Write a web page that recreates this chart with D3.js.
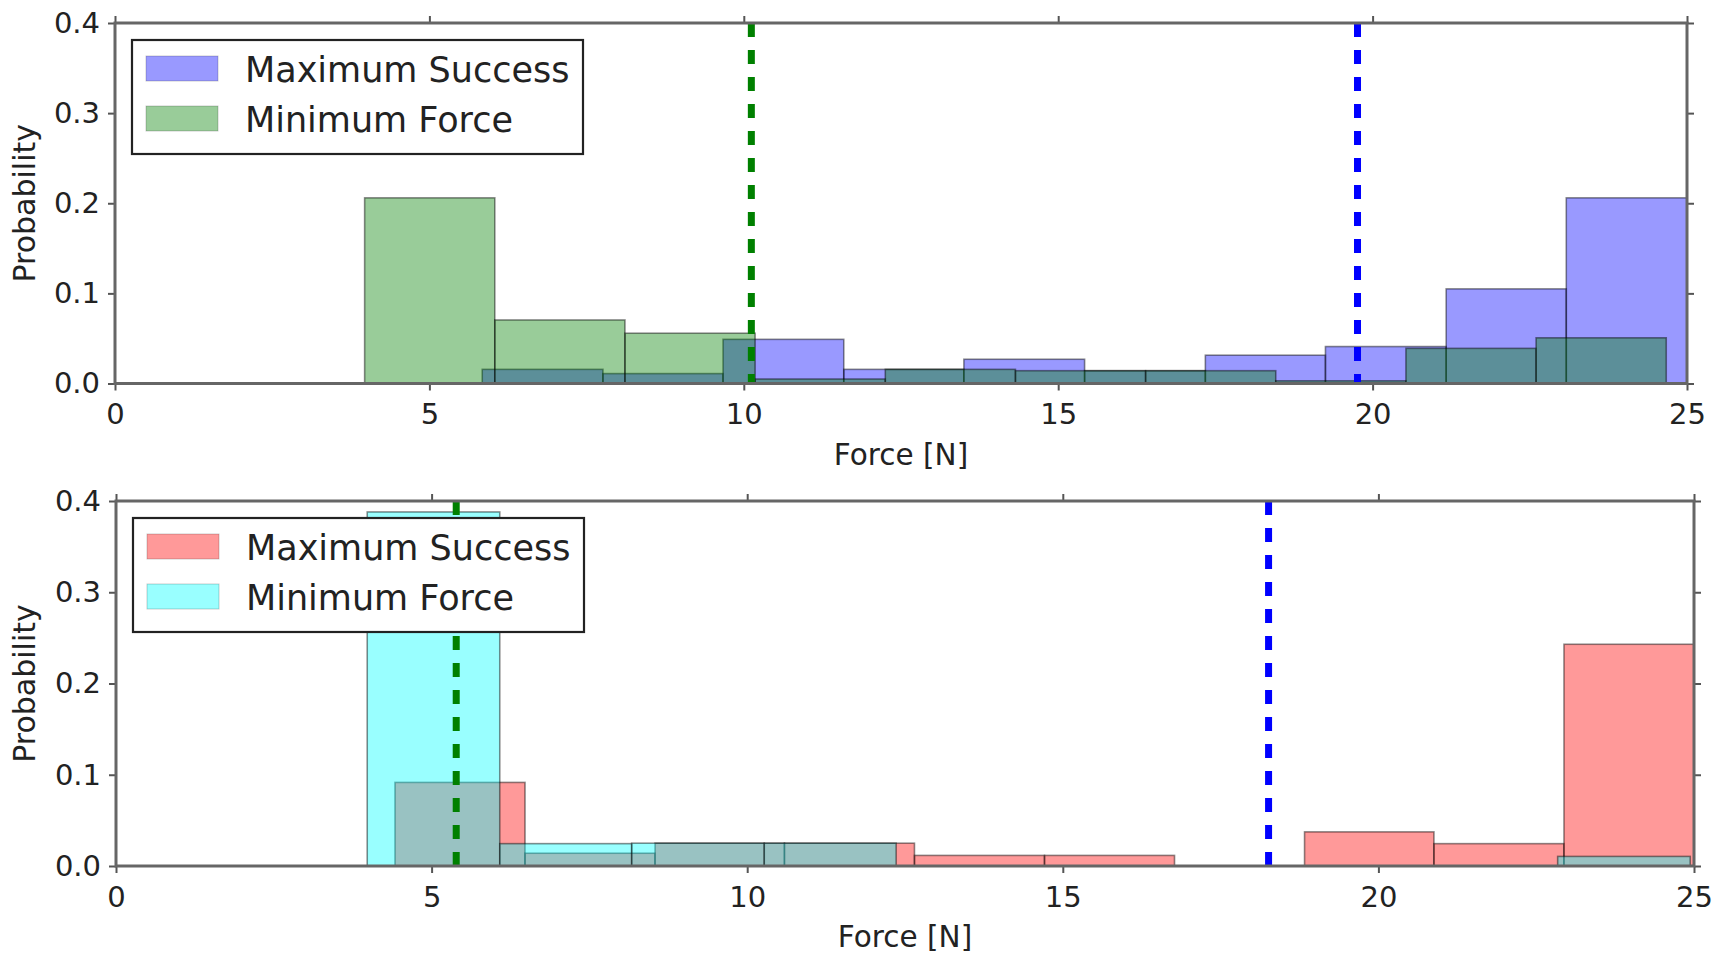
<!DOCTYPE html>
<html>
<head>
<meta charset="utf-8">
<script src="https://cdn.jsdelivr.net/npm/d3@7"></script>
<style>
  html, body { margin: 0; padding: 0; background: #fff; }
  svg { display: block; }
  text { font-family: "DejaVu Sans", sans-serif; fill: #222; }
</style>
</head>
<body>
<svg id="chart" width="1723" height="955"></svg>
<script>
// ---------------- data ----------------
const xTickValues = [0, 5, 10, 15, 20, 25];
const yTickValues = [0.0, 0.1, 0.2, 0.3, 0.4];
const legendLabels = ["Maximum Success", "Minimum Force"];
const xAxisTitle = "Force [N]";
const yAxisTitle = "Probability";

// top panel: Maximum Success (blue)
const topMaxSuccessEdges = [5.84, 7.76, 9.67, 11.59, 13.50, 15.42, 17.34, 19.25, 21.17, 23.08, 25.00];
const topMaxSuccessProb  = [0.0157, 0.011, 0.049, 0.0157, 0.0269, 0.0142, 0.0314, 0.041, 0.105, 0.206];
// top panel: Minimum Force (green)
const topMinForceEdges = [3.97, 6.04, 8.11, 10.18, 12.25, 14.32, 16.39, 18.46, 20.53, 22.60, 24.67];
const topMinForceProb  = [0.206, 0.0705, 0.0558, 0.005, 0.0157, 0.0142, 0.0142, 0.003, 0.039, 0.0507];
// top panel mean lines
const topMeanMinForce = 10.12;
const topMeanMaxSuccess = 19.76;

// bottom panel: Maximum Success (red)
const botMaxSuccessEdges = [4.42, 6.48, 8.54, 10.59, 12.65, 14.71, 16.77, 18.83, 20.88, 22.94, 25.00];
const botMaxSuccessProb  = [0.0916, 0.014, 0.025, 0.025, 0.0116, 0.0116, 0, 0.0374, 0.0245, 0.243];
// bottom panel: Minimum Force (cyan)
const botMinForceEdges = [3.98, 6.08, 8.17, 10.27, 12.36, 14.46, 16.56, 18.65, 20.75, 22.84, 24.94];
const botMinForceProb  = [0.388, 0.0245, 0.025, 0.025, 0, 0, 0, 0, 0, 0.0105];
// bottom panel mean lines
const botMeanMinForce = 5.39;
const botMeanMaxSuccess = 18.26;

// ---------------- drawing ----------------
const svg = d3.select("#chart");

function toBins(edges, probs) {
  return probs.map((p, i) => ({ x0: edges[i], x1: edges[i + 1], p }));
}

function drawPanel(cfg) {
  const g = svg.append("g");
  const x = d3.scaleLinear().domain([0, 25]).range([cfg.left, cfg.right]);
  const y = d3.scaleLinear().domain([0, 0.4]).range([cfg.bottom, cfg.top]);

  cfg.series.forEach(s => {
    g.append("g").selectAll("rect")
      .data(toBins(s.edges, s.probs))
      .join("rect")
      .attr("x", d => x(d.x0))
      .attr("width", d => x(d.x1) - x(d.x0))
      .attr("y", d => y(d.p))
      .attr("height", d => y(0) - y(d.p))
      .attr("fill", s.color)
      .attr("fill-opacity", 0.4)
      .attr("stroke", "#000")
      .attr("stroke-opacity", 0.45)
      .attr("stroke-width", 1.6);
  });

  cfg.lines.forEach(l => {
    g.append("line")
      .attr("x1", x(l.value)).attr("x2", x(l.value))
      .attr("y1", y(0.4)).attr("y2", y(0))
      .attr("stroke", l.color)
      .attr("stroke-width", 7)
      .attr("stroke-dasharray", "14 13");
  });

  // axes
  const tickStyle = sel => {
    sel.select(".domain").remove();
    sel.selectAll(".tick line").attr("stroke", "#555").attr("stroke-width", 2);
    sel.selectAll(".tick text").attr("font-size", 29).attr("fill", "#222");
  };
  g.append("g").attr("transform", `translate(0,${cfg.bottom})`)
    .call(d3.axisBottom(x).tickValues(xTickValues).tickSize(7).tickPadding(13).tickFormat(d3.format("d")))
    .call(tickStyle);
  g.append("g").attr("transform", `translate(0,${cfg.top})`)
    .call(d3.axisTop(x).tickValues(xTickValues).tickSize(7).tickFormat(""))
    .call(tickStyle);
  g.append("g").attr("transform", `translate(${cfg.left},0)`)
    .call(d3.axisLeft(y).tickValues(yTickValues).tickSize(7).tickPadding(8).tickFormat(d3.format(".1f")))
    .call(tickStyle);
  g.append("g").attr("transform", `translate(${cfg.right},0)`)
    .call(d3.axisRight(y).tickValues(yTickValues).tickSize(7).tickFormat(""))
    .call(tickStyle);

  // spines
  g.append("rect")
    .attr("x", cfg.left).attr("y", cfg.top)
    .attr("width", cfg.right - cfg.left).attr("height", cfg.bottom - cfg.top)
    .attr("fill", "none").attr("stroke", "#666").attr("stroke-width", 3);

  // axis titles
  g.append("text")
    .attr("x", (cfg.left + cfg.right) / 2).attr("y", cfg.bottom + 81)
    .attr("text-anchor", "middle").attr("font-size", 29.5)
    .text(xAxisTitle);
  g.append("text")
    .attr("transform", `translate(35,${(cfg.top + cfg.bottom) / 2}) rotate(-90)`)
    .attr("text-anchor", "middle").attr("font-size", 30)
    .text(yAxisTitle);

  // legend
  const lg = g.append("g").attr("transform", `translate(${cfg.left + 17},${cfg.top + 17})`);
  lg.append("rect").attr("x", 0).attr("y", 0).attr("width", 451).attr("height", 114)
    .attr("fill", "#fff").attr("stroke", "#222").attr("stroke-width", 2.2);
  cfg.series.forEach((s, i) => {
    const yy = 16 + i * 50;
    lg.append("rect").attr("x", 14).attr("y", yy).attr("width", 72).attr("height", 25)
      .attr("fill", s.color).attr("fill-opacity", 0.4)
      .attr("stroke", "#000").attr("stroke-opacity", 0.2).attr("stroke-width", 1);
    lg.append("text").attr("x", 113).attr("y", yy + 26)
      .attr("font-size", 35).text(legendLabels[i]);
  });
}

drawPanel({
  left: 115, right: 1687, top: 23, bottom: 383.5,
  series: [
    { edges: topMaxSuccessEdges, probs: topMaxSuccessProb, color: "#0000ff" },
    { edges: topMinForceEdges, probs: topMinForceProb, color: "#008000" }
  ],
  lines: [
    { value: topMeanMinForce, color: "#008000" },
    { value: topMeanMaxSuccess, color: "#0000ff" }
  ]
});

drawPanel({
  left: 116, right: 1694, top: 501, bottom: 866,
  series: [
    { edges: botMaxSuccessEdges, probs: botMaxSuccessProb, color: "#ff0000" },
    { edges: botMinForceEdges, probs: botMinForceProb, color: "#00ffff" }
  ],
  lines: [
    { value: botMeanMinForce, color: "#008000" },
    { value: botMeanMaxSuccess, color: "#0000ff" }
  ]
});
</script>
</body>
</html>
